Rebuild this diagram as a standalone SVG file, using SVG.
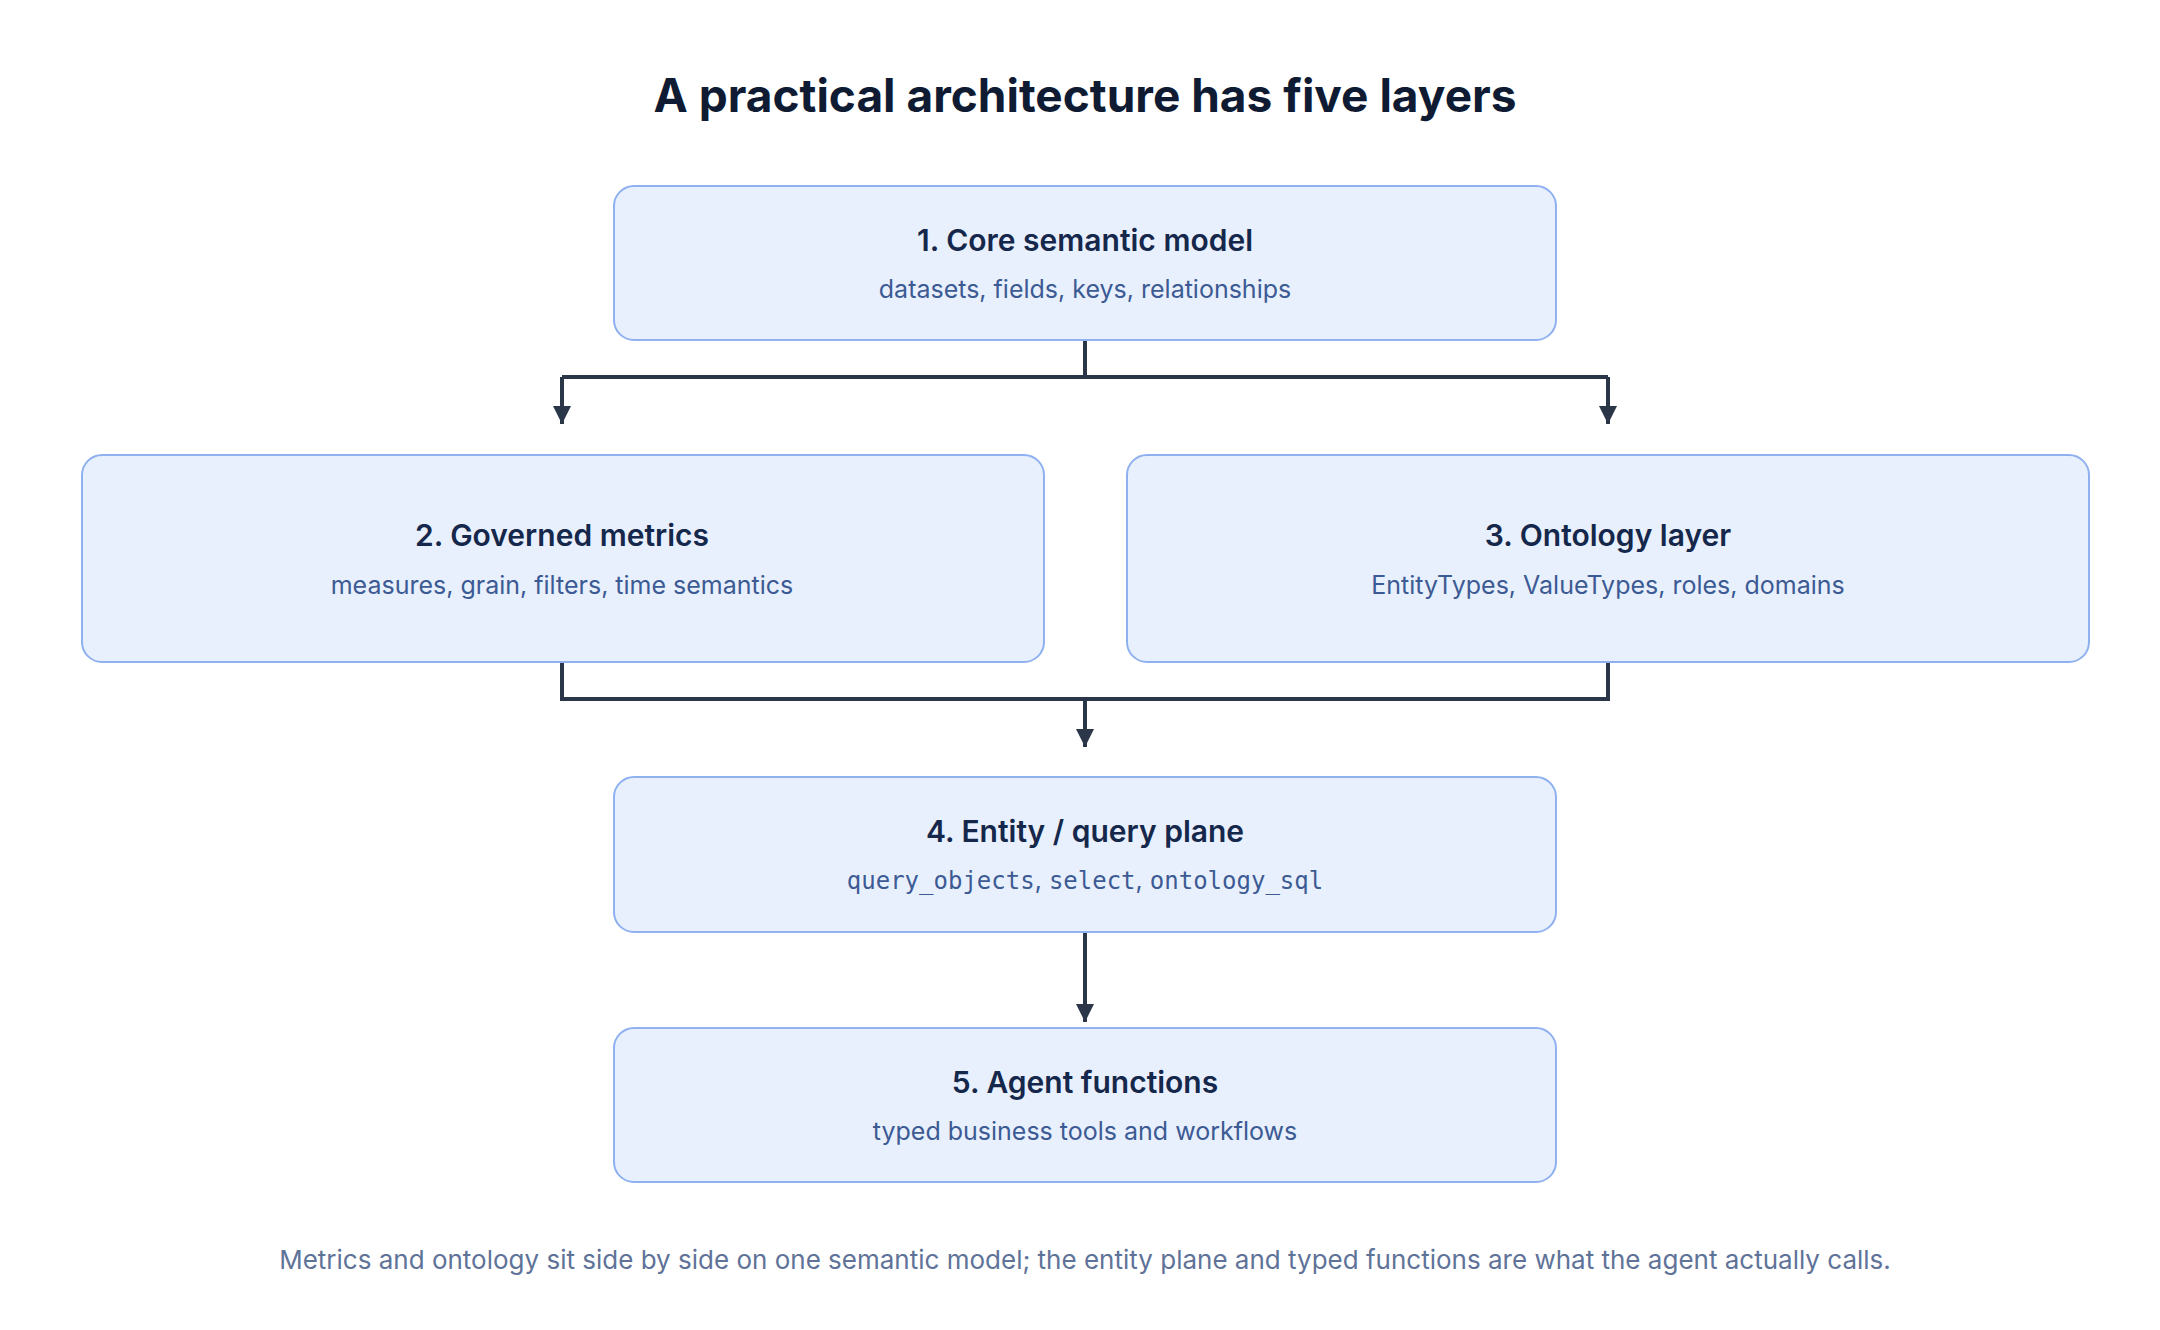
<svg xmlns="http://www.w3.org/2000/svg" width="2160" height="1330" viewBox="0 0 2160 1330">
<style>
.box{fill:#e8f0fd;stroke:#8fb1f0;stroke-width:2}
.t{font-family:Inter,"Noto Sans",sans-serif;font-weight:600;font-size:30px;fill:#15284b;text-anchor:middle}
.s{font-family:Inter,"Noto Sans",sans-serif;font-size:25px;fill:#3c5a93;text-anchor:middle}
.m{font-family:"DejaVu Sans Mono",monospace;font-size:24px}
.c{fill:none;stroke:#2b3648;stroke-width:4}
</style>
<defs><marker id="a" markerWidth="8" markerHeight="8" refX="4" refY="7" orient="auto" markerUnits="userSpaceOnUse" viewBox="0 0 8 8"><path d="M0,0 L8,0 L4,8z" fill="#2b3648"/></marker>
<marker id="ah" viewBox="0 0 10 10" refX="10" refY="5" markerWidth="20" markerHeight="18" markerUnits="userSpaceOnUse" orient="auto"><path d="M0,0 L10,5 L0,10z" fill="#2b3648"/></marker></defs>
<rect width="2160" height="1330" fill="#fff"/>
<text x="1085" y="112" font-family="Inter,'Noto Sans',sans-serif" font-weight="700" font-size="46" fill="#0f1b33" text-anchor="middle">A practical architecture has five layers</text>
<g id="connectors">
<path class="c" d="M1085,339 V377 M562,377 H1608"/>
<path class="c" d="M562,377 V424" marker-end="url(#ah)"/>
<path class="c" d="M1608,377 V424" marker-end="url(#ah)"/>
<path class="c" d="M562,662 V699 H1608 V662"/>
<path class="c" d="M1085,699 V747" marker-end="url(#ah)"/>
<path class="c" d="M1085,932 V1022" marker-end="url(#ah)"/>
</g>
<g id="n1"><rect class="box" x="614" y="186" width="942" height="154" rx="20"/><text class="t" x="1085" y="251">1. Core semantic model</text><text class="s" x="1085" y="298">datasets, fields, keys, relationships</text></g>
<g id="n2"><rect class="box" x="82" y="455" width="962" height="207" rx="20"/><text class="t" x="562" y="546">2. Governed metrics</text><text class="s" x="562" y="594">measures, grain, filters, time semantics</text></g>
<g id="n3"><rect class="box" x="1127" y="455" width="962" height="207" rx="20"/><text class="t" x="1608" y="546">3. Ontology layer</text><text class="s" x="1608" y="594">EntityTypes, ValueTypes, roles, domains</text></g>
<g id="n4"><rect class="box" x="614" y="777" width="942" height="155" rx="20"/><text class="t" x="1085" y="842">4. Entity / query plane</text><text class="s" x="1085" y="889"><tspan class="m">query_objects</tspan>, <tspan class="m">select</tspan>, <tspan class="m">ontology_sql</tspan></text></g>
<g id="n5"><rect class="box" x="614" y="1028" width="942" height="154" rx="20"/><text class="t" x="1085" y="1093">5. Agent functions</text><text class="s" x="1085" y="1140">typed business tools and workflows</text></g>
<text x="1085" y="1269" font-family="Inter,'Noto Sans',sans-serif" font-size="26" fill="#5f7399" text-anchor="middle">Metrics and ontology sit side by side on one semantic model; the entity plane and typed functions are what the agent actually calls.</text>
</svg>
